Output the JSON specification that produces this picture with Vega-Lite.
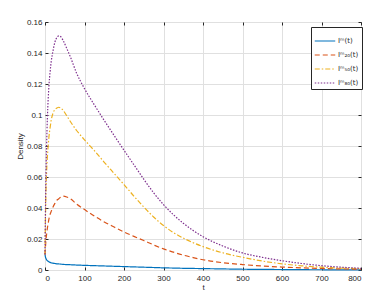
{
  "$schema": "https://vega.github.io/schema/vega-lite/v6.json",
  "width": 316,
  "height": 248,
  "autosize": "none",
  "padding": {"left": 45, "top": 22, "right": 24, "bottom": 27},
  "background": "white",
  "config": {
    "font": "Liberation Sans",
    "view": {"stroke": "#262626", "strokeWidth": 1},
    "axis": {
      "labelFont": "Liberation Sans",
      "titleFont": "Liberation Sans",
      "labelFontSize": 8,
      "titleFontSize": 8,
      "labelColor": "#262626",
      "titleColor": "#262626",
      "titleFontWeight": "normal",
      "domain": false,
      "tickColor": "#262626",
      "tickSize": -3,
      "gridColor": "#e0e0e0",
      "gridWidth": 1
    }
  },
  "data": {
    "values": [
      {"t": 0, "Im": 0.0101, "I20": 0.010, "I50": 0.010, "I80": 0.010},
      {"t": 1, "Im": 0.0085, "I20": 0.014, "I50": 0.030, "I80": 0.035},
      {"t": 2, "Im": 0.0077, "I20": 0.018, "I50": 0.045, "I80": 0.055},
      {"t": 4, "Im": 0.0066, "I20": 0.023, "I50": 0.063, "I80": 0.080},
      {"t": 6, "Im": 0.0060, "I20": 0.027, "I50": 0.073, "I80": 0.098},
      {"t": 8, "Im": 0.0056, "I20": 0.030, "I50": 0.080, "I80": 0.110},
      {"t": 10, "Im": 0.0053, "I20": 0.033, "I50": 0.086, "I80": 0.119},
      {"t": 13, "Im": 0.0049, "I20": 0.036, "I50": 0.092, "I80": 0.128},
      {"t": 16, "Im": 0.0046, "I20": 0.038, "I50": 0.097, "I80": 0.135},
      {"t": 20, "Im": 0.0044, "I20": 0.0405, "I50": 0.101, "I80": 0.141},
      {"t": 25, "Im": 0.0042, "I20": 0.043, "I50": 0.1035, "I80": 0.147},
      {"t": 30, "Im": 0.0040, "I20": 0.045, "I50": 0.1045, "I80": 0.150},
      {"t": 35, "Im": 0.0039, "I20": 0.046, "I50": 0.105, "I80": 0.151},
      {"t": 40, "Im": 0.0038, "I20": 0.047, "I50": 0.1045, "I80": 0.1505},
      {"t": 46, "Im": 0.0036, "I20": 0.0476, "I50": 0.103, "I80": 0.148},
      {"t": 55, "Im": 0.0035, "I20": 0.0471, "I50": 0.0995, "I80": 0.143},
      {"t": 65, "Im": 0.0034, "I20": 0.0458, "I50": 0.0955, "I80": 0.137},
      {"t": 80, "Im": 0.0032, "I20": 0.0425, "I50": 0.090, "I80": 0.127},
      {"t": 100, "Im": 0.0030, "I20": 0.039, "I50": 0.084, "I80": 0.117},
      {"t": 125, "Im": 0.0028, "I20": 0.0348, "I50": 0.077, "I80": 0.1065},
      {"t": 150, "Im": 0.0026, "I20": 0.031, "I50": 0.0695, "I80": 0.0965},
      {"t": 175, "Im": 0.0024, "I20": 0.0277, "I50": 0.0623, "I80": 0.0868},
      {"t": 200, "Im": 0.0022, "I20": 0.0245, "I50": 0.0551, "I80": 0.0773},
      {"t": 225, "Im": 0.0020, "I20": 0.0217, "I50": 0.0477, "I80": 0.0679},
      {"t": 250, "Im": 0.0018, "I20": 0.019, "I50": 0.0407, "I80": 0.0586},
      {"t": 275, "Im": 0.0016, "I20": 0.0162, "I50": 0.0342, "I80": 0.0498},
      {"t": 300, "Im": 0.0014, "I20": 0.0136, "I50": 0.0287, "I80": 0.0422},
      {"t": 325, "Im": 0.00125, "I20": 0.0115, "I50": 0.0242, "I80": 0.0357},
      {"t": 350, "Im": 0.0011, "I20": 0.0096, "I50": 0.0206, "I80": 0.0302},
      {"t": 375, "Im": 0.001, "I20": 0.008, "I50": 0.0176, "I80": 0.0255},
      {"t": 400, "Im": 0.0009, "I20": 0.0066, "I50": 0.0151, "I80": 0.0215},
      {"t": 450, "Im": 0.0007, "I20": 0.0047, "I50": 0.0111, "I80": 0.0155},
      {"t": 500, "Im": 0.0005, "I20": 0.0035, "I50": 0.0082, "I80": 0.011},
      {"t": 550, "Im": 0.0004, "I20": 0.0026, "I50": 0.0058, "I80": 0.0082},
      {"t": 600, "Im": 0.0003, "I20": 0.0019, "I50": 0.0040, "I80": 0.006},
      {"t": 650, "Im": 0.0002, "I20": 0.0014, "I50": 0.0027, "I80": 0.0042},
      {"t": 700, "Im": 0.00015, "I20": 0.0010, "I50": 0.0018, "I80": 0.0028},
      {"t": 750, "Im": 0.0001, "I20": 0.0007, "I50": 0.0012, "I80": 0.0018},
      {"t": 800, "Im": 0.0001, "I20": 0.0005, "I50": 0.0009, "I80": 0.0011}
    ]
  },
  "transform": [
    {"fold": ["Im", "I20", "I50", "I80"], "as": ["series", "v"]}
  ],
  "layer": [
    {
      "mark": {"type": "line", "strokeWidth": 1.2, "interpolate": "monotone"},
      "encoding": {
        "x": {
          "field": "t", "type": "quantitative",
          "scale": {"domain": [0, 800], "nice": false},
          "axis": {"title": "t", "values": [0,100,200,300,400,500,600,700,800], "labelPadding": 7, "titlePadding": 1}
        },
        "y": {
          "field": "v", "type": "quantitative",
          "scale": {"domain": [0, 0.16], "nice": false},
          "axis": {"title": "Density", "values": [0,0.02,0.04,0.06,0.08,0.1,0.12,0.14,0.16], "format": "~g", "labelPadding": 6, "titlePadding": 2}
        },
        "color": {
          "field": "series", "type": "nominal",
          "scale": {"domain": ["Im", "I20", "I50", "I80"], "range": ["#0072BD", "#D95319", "#EDB120", "#7E2F8E"]},
          "legend": {
            "title": null,
            "orient": "none",
            "legendX": 266,
            "legendY": 5,
            "symbolType": "stroke",
            "symbolSize": 420,
            "symbolStrokeWidth": 1.2,
            "labelFontSize": 7,
            "labelFont": "DejaVu Sans",
            "labelColor": "#262626",
            "labelOffset": 2,
            "rowPadding": -2,
            "padding": 3,
            "strokeColor": "#262626",
            "fillColor": "white",
            "labelExpr": "datum.value == 'Im' ? 'Iᵐ(t)' : datum.value == 'I20' ? 'Iᵐ₂₀(t)' : datum.value == 'I50' ? 'Iᵐ₅₀(t)' : 'Iᵐ₈₀(t)'"
          }
        },
        "strokeDash": {
          "field": "series", "type": "nominal",
          "scale": {"domain": ["Im", "I20", "I50", "I80"], "range": [[1, 0], [5, 3], [5, 2, 1.5, 2], [1.5, 1.5]]},
          "legend": null
        }
      }
    },
    {
      "mark": {"type": "point", "opacity": 0},
      "encoding": {
        "x": {
          "field": "t", "type": "quantitative",
          "axis": {"orient": "top", "title": null, "labels": false, "grid": false, "values": [0,100,200,300,400,500,600,700,800]}
        },
        "y": {
          "field": "v", "type": "quantitative",
          "axis": {"orient": "right", "title": null, "labels": false, "grid": false, "values": [0,0.02,0.04,0.06,0.08,0.1,0.12,0.14,0.16]}
        }
      }
    }
  ],
  "resolve": {"axis": {"x": "independent", "y": "independent"}}
}
